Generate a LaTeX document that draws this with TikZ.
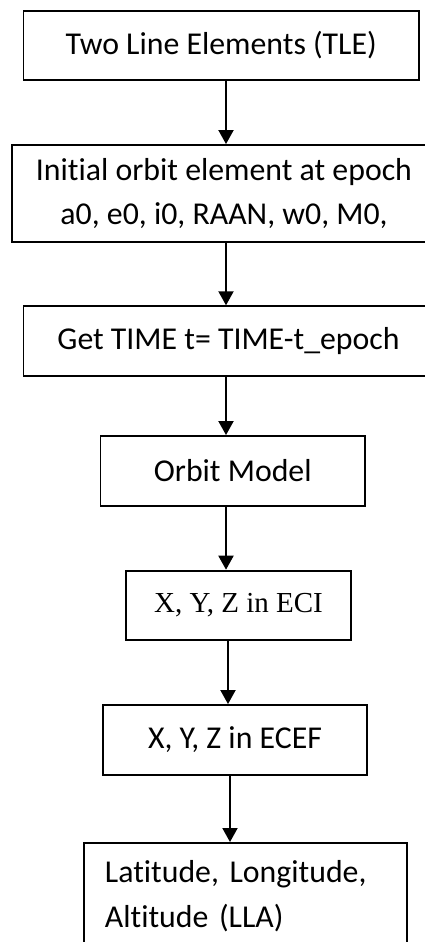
\documentclass[tikz,border=0pt]{standalone}
\usepackage{fontspec}
\setmainfont{Carlito}[Ligatures={NoCommon}]
\newfontfamily\serifrm{Liberation Serif}
\usetikzlibrary{arrows.meta}
\frenchspacing

\tikzset{
  stepbox/.style={draw, line width=1.9pt, inner sep=0pt, align=center,
    font=\fontsize{31.8}{44.5}\selectfont},
  flow/.style={line width=1.9pt, -{Triangle[width=15pt,length=14pt]}}
}

\begin{document}
\begin{tikzpicture}[x=1pt,y=-1pt]
  \useasboundingbox (0,0) rectangle (425,942);
  \clip (0,0) rectangle (425,942);

  \node[stepbox, minimum width=395.5pt, minimum height=69pt] (tle) at (221.25,45.5) {Two Line Elements (TLE)};
  \node[stepbox, minimum width=424pt, minimum height=97pt] (init) at (224,193.5)
    {Initial orbit element at epoch\\a0, e0, i0, RAAN, w0, M0,};
  \node[stepbox, minimum width=410pt, minimum height=69.5pt] (time) at (228.5,341) {Get TIME t= TIME-t\_epoch};
  \node[stepbox, minimum width=264.5pt, minimum height=70pt] (model) at (232.75,471) {Orbit Model};
  \node[stepbox, minimum width=225pt, minimum height=69.3pt, font=\serifrm\fontsize{29}{34}\selectfont] (eci) at (238.5,605.3) {X, Y, Z in ECI};
  \node[stepbox, minimum width=264pt, minimum height=70pt] (ecef) at (235,740) {X, Y, Z in ECEF};
  \node[stepbox, anchor=north west, align=left, text width=281pt, inner xsep=21pt, minimum height=106pt] (lla) at (83,842)
    {Latitude, Longitude,\\Altitude (LLA)};

  % connectors
  \draw[flow] (tle.south -| 226,0) -- (init.north -| 226,0);
  \draw[flow] (init.south -| 226,0) -- (time.north -| 226,0);
  \draw[flow] (time.south -| 226,0) -- (model.north -| 226,0);
  \draw[flow] (model.south -| 226,0) -- (eci.north -| 226,0);
  \draw[flow] (eci.south -| 228,0) -- (ecef.north -| 228,0);
  \draw[flow] (ecef.south -| 230,0) -- (lla.north -| 230,0);
\end{tikzpicture}
\end{document}
